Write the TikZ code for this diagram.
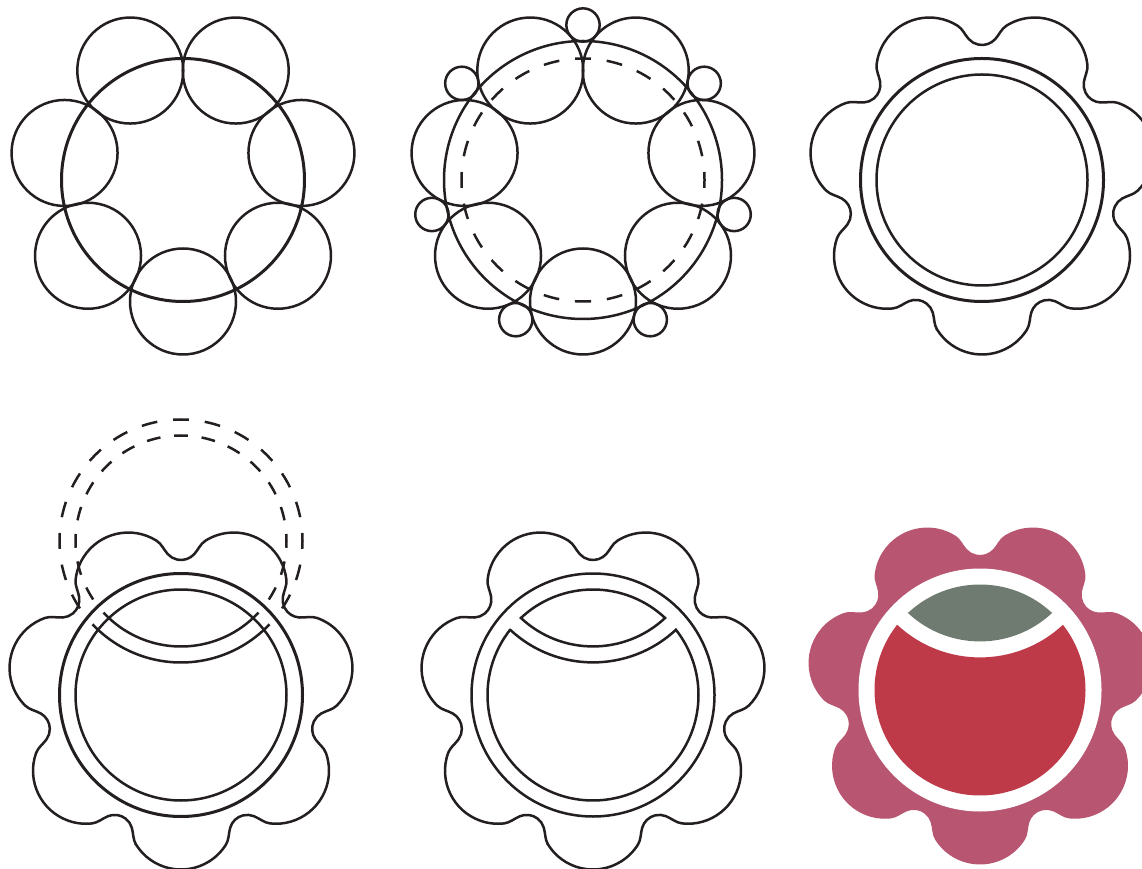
\documentclass[tikz,border=0pt]{standalone}
\usepackage{xcolor}
\definecolor{inkline}{RGB}{35,31,32}
\definecolor{petalrose}{RGB}{184,85,112}
\definecolor{corered}{RGB}{190,58,73}
\definecolor{lensgrey}{RGB}{111,123,112}
\usepackage{tikz}
\usetikzlibrary{arrows.meta,positioning,calc}

% outline of the seven petals with their small necks
\newcommand{\flowerpath}{
  ({121.5*cos(-90)+53*cos(-90-58)},{121.5*sin(-90)+53*sin(-90-58)})
  \foreach \k [evaluate=\k as \ang using -90+\k*360/7, evaluate=\k as \nk using -90+\k*360/7+25.714] in {0,...,6} {
    arc[start angle=\ang-58, end angle=\ang+58, radius=53]
    .. controls +(\ang+148:6) and +(\nk+318:6) .. ({152.8*cos(\nk)+17.8*cos(\nk+228)},{152.8*sin(\nk)+17.8*sin(\nk+228)})
    arc[start angle=\nk+228, end angle=\nk+132, radius=17.8]
    .. controls +(\nk+42:6) and +(\ang+51.43-148:6) .. ({121.5*cos(\ang+51.43)+53*cos(\ang+51.43-58)},{121.5*sin(\ang+51.43)+53*sin(\ang+51.43-58)})
  } -- cycle}
% window at the top of the core
\newcommand{\lenspath}{
  (46.9:105.5) arc[start angle=46.9, end angle=133.1, radius=105.5]
  arc[start angle=226.9, end angle=313.1, radius=105.5] -- cycle}
% rest of the core
\newcommand{\corepath}{
  (141.8:105.5) arc[start angle=141.8, end angle=398.2, radius=105.5]
  arc[start angle=313, end angle=227, radius=121.5] -- cycle}

\begin{document}
\begin{tikzpicture}[
    x=1pt, y=1pt,
    line/.style={draw=inkline, line width=2.5pt},
    heavy/.style={draw=inkline, line width=3pt},
    dashouter/.style={draw=inkline, line width=2.5pt, dash pattern=on 15.9pt off 15.9pt, dash phase=7.95pt},
    dashinner/.style={draw=inkline, line width=2.5pt, dash pattern=on 13.8pt off 13.8pt, dash phase=6.9pt}
  ]
    \useasboundingbox (0,0) rectangle (1142,868);
    \clip (0,0) rectangle (1142,868);

    % Petals on the ring
    \begin{scope}[shift={(183,688)}]
      \draw[heavy] (0,0) circle[radius=121.5];
      \foreach \k in {0,...,6}
        \draw[line] (-90+\k*360/7:121.5) circle[radius=53];
    \end{scope}

    % Petals with necks
    \begin{scope}[shift={(583,688)}]
      \draw[line] (0,0) circle[radius=139];
      \draw[dashouter] (0,121.5) arc[start angle=90, end angle=-90, radius=121.5];
      \draw[dashouter] (0,121.5) arc[start angle=90, end angle=270, radius=121.5];
      \foreach \k in {0,...,6} {
        \draw[line] (-90+\k*360/7:121.5) circle[radius=53];
        \draw[line] (-90+\k*360/7+180/7:155) circle[radius=16.66];
      }
    \end{scope}

    % Outline
    \begin{scope}[shift={(982,688)}]
      \draw[line] \flowerpath;
      \draw[heavy] (0,0) circle[radius=121.5];
      \draw[line] (0,0) circle[radius=105.5];
    \end{scope}

    % Outline and raised copy
    \begin{scope}[shift={(181,173)}]
      \draw[line] \flowerpath;
      \draw[heavy] (0,0) circle[radius=121.5];
      \draw[line] (0,0) circle[radius=105.5];
      \begin{scope}[shift={(0,154)}]
        \draw[line] (223.3:121.5) arc[start angle=223.3, end angle=316.7, radius=121.5];
        \draw[line] (222.7:105.5) arc[start angle=222.7, end angle=317.3, radius=105.5];
        \draw[dashouter] (0,121.5) arc[start angle=90, end angle=-38, radius=121.5];
        \draw[dashouter] (0,121.5) arc[start angle=90, end angle=218, radius=121.5];
        \draw[dashinner] (0,105.5) arc[start angle=90, end angle=-38, radius=105.5];
        \draw[dashinner] (0,105.5) arc[start angle=90, end angle=218, radius=105.5];
      \end{scope}
    \end{scope}

    % Cut core
    \begin{scope}[shift={(593,173)}]
      \draw[line] \flowerpath;
      \draw[line] (0,0) circle[radius=121.5];
      \draw[line] \lenspath;
      \draw[line] \corepath;
    \end{scope}

    % Coloured
    \begin{scope}[shift={(980,178)}]
      \fill[petalrose] \flowerpath;
      \fill[white] (0,0) circle[radius=121.5];
      \fill[lensgrey] \lenspath;
      \fill[corered] \corepath;
    \end{scope}
\end{tikzpicture}
\end{document}
